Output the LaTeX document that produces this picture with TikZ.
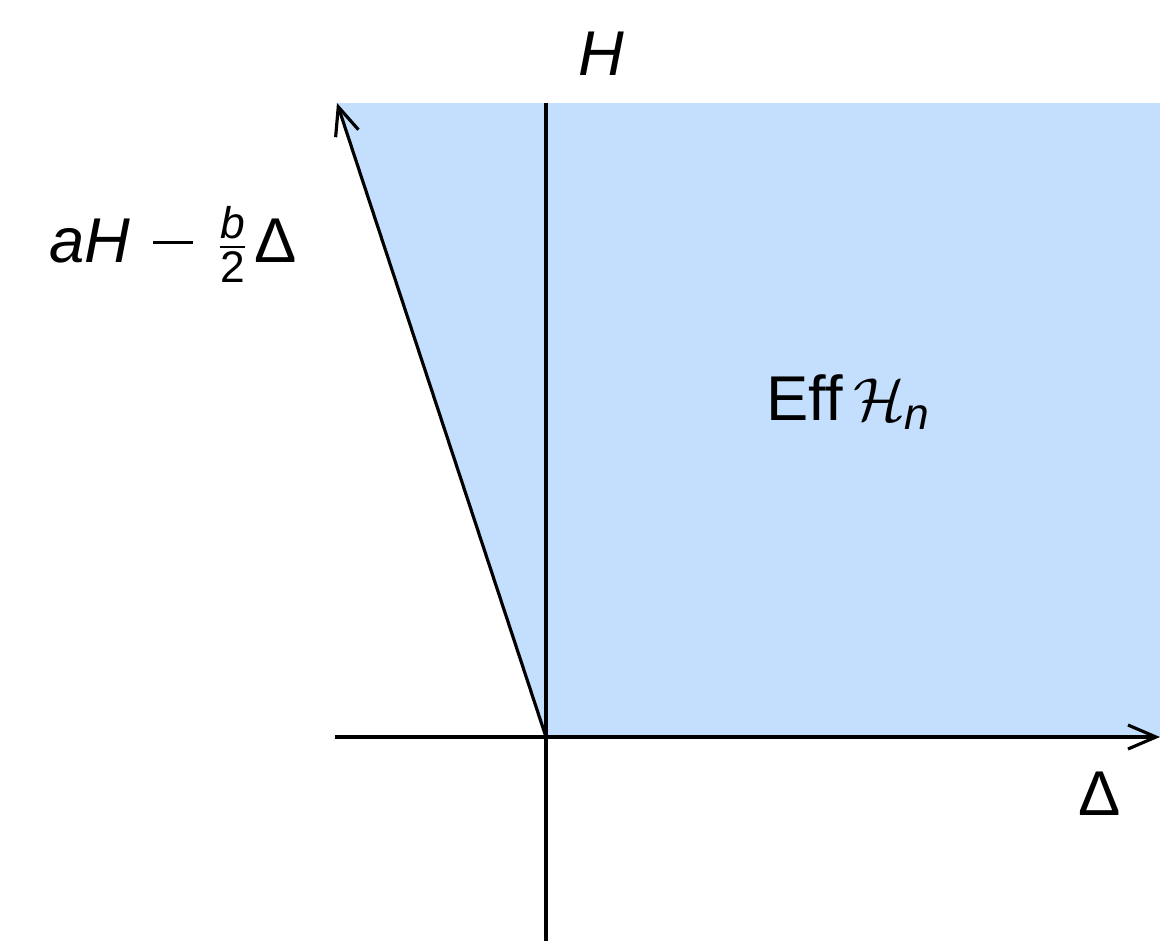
\documentclass[tikz,border=0pt]{standalone}
\usepackage{amsmath}
\usepackage{fontspec}
\setmainfont{Liberation Sans}
\usetikzlibrary{arrows.meta}
\definecolor{effBlue}{RGB}{195,223,253}
\newcommand{\wideminus}{\rule[5.2pt]{11.4pt}{0.8pt}}

\begin{document}
\begin{tikzpicture}[x=0.01cm,y=-0.01cm,font=\fontsize{18}{20}\selectfont,
  ax/.style={line width=0.9pt,black},
  a/.style={-{Straight Barb[length=2.8mm,width=2.4mm,line width=0.9pt]},line width=0.9pt,black},
  lbl/.style={inner sep=0pt,anchor=base}]
  \useasboundingbox (0,0) rectangle (1160,941);
  \coordinate (O) at (546,737);
  \coordinate (tl) at (337,103);
  \coordinate (tr) at (1160,103);
  \coordinate (br) at (1160,737);
  \coordinate (xl) at (335,737);
  \coordinate (yb) at (546,941);
  \coordinate (yt) at (546,103);
  % region
  \fill[effBlue] (tl) -- (tr) -- (br) -- (O) -- cycle;
  % axes
  \draw[a] (xl) -- (br);
  \draw[ax] (yb) -- (yt);
  \draw[a] (O) -- (tl);
  % labels
  \node[inner sep=0pt] (hl) at (601,54) {\textit{H}};
  \node[lbl] (sl) at (173,262) {\textit{aH}\hspace{6.5pt}\wideminus\hspace{6.5pt}$\frac{\textit{b}}{\text{2}}$\hspace{1.5pt}Δ};
  \node[lbl] (eff) at (849,420) {Eff\,$\mathcal{H}_{\textit{n}}$};
  \node[lbl] (dl) at (1100,815) {Δ};
\end{tikzpicture}
\end{document}
